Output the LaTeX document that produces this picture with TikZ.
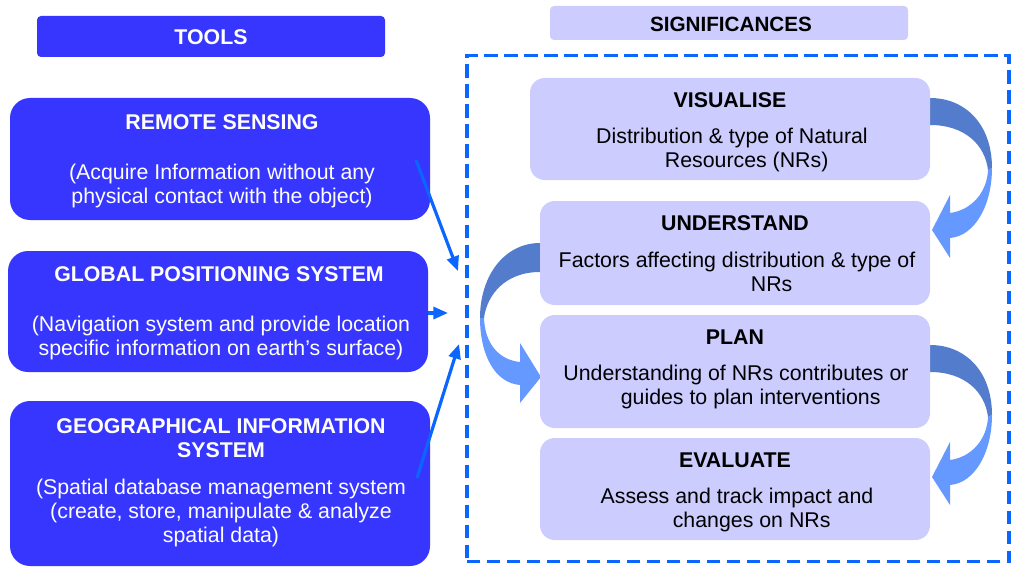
\documentclass[tikz,border=0pt]{standalone}
\usepackage{fontspec}
\setmainfont{Liberation Sans}
\usetikzlibrary{arrows.meta}
\definecolor{toolblue}{HTML}{3636FF}
\definecolor{lav}{HTML}{CCCCFF}
\definecolor{linkblue}{HTML}{0A66FF}
\definecolor{banddark}{HTML}{547CCC}
\definecolor{bandlight}{HTML}{6699FF}
\tikzset{
  toolbox/.style={fill=toolblue, draw=none, rounded corners=15pt, inner sep=0pt},
  sigbox/.style={fill=lav, draw=none, rounded corners=11pt, inner sep=0pt},
  headbox/.style={draw=none, rounded corners=3pt, inner sep=0pt},
  ttl/.style={font=\fontsize{16}{18}\selectfont\bfseries, align=center, inner sep=0pt},
  bdy/.style={font=\fontsize{16}{18}\selectfont, align=center, inner sep=0pt},
  link/.style={draw=linkblue, line width=2.4pt, -{Triangle[length=11pt,width=9pt]}},
}
\begin{document}
\begin{tikzpicture}[x=0.75pt,y=-0.75pt]
\useasboundingbox (0,0) rectangle (1011,567);
% headers
\node[headbox, fill=toolblue, minimum width=261pt, minimum height=30.75pt] (tools) at (211,36.5) {};
\node[ttl, text=white] (toolst) at (211,37) {TOOLS};
\node[headbox, fill=lav, minimum width=268.5pt, minimum height=25.5pt] (sig) at (729,23) {};
\node[ttl, font=\fontsize{15.5}{18}\selectfont\bfseries] (sigt) at (731,24) {SIGNIFICANCES};
% dashed frame
\node[draw=linkblue, line width=2.3pt, dash pattern=on 10pt off 5pt, minimum width=406.5pt, minimum height=380pt, inner sep=0pt] (frame) at (738,308.5) {};
% curved ribbon arrows
\fill[banddark] (930,98) .. controls (966,98) and (992,125) .. (992,168) -- (988,170) .. controls (985,145) and (965,125) .. (930,125) -- cycle;
\fill[bandlight] (992,168) .. controls (992,205) and (975,236) .. (950,238) -- (950,258) -- (932,230) -- (950,195) -- (950,213) .. controls (972,210) and (987,192) .. (988,170) -- cycle;
\begin{scope}[yshift=-247*0.75pt]
\fill[banddark] (930,98) .. controls (966,98) and (992,125) .. (992,168) -- (988,170) .. controls (985,145) and (965,125) .. (930,125) -- cycle;
\fill[bandlight] (992,168) .. controls (992,205) and (975,236) .. (950,238) -- (950,258) -- (932,230) -- (950,195) -- (950,213) .. controls (972,210) and (987,192) .. (988,170) -- cycle;
\end{scope}
\fill[banddark] (540,243) .. controls (505,243) and (480,275) .. (480,318) -- (484,318) .. controls (487,295) and (505,272) .. (540,272) -- cycle;
\fill[bandlight] (480,318) .. controls (480,355) and (495,383) .. (520,385) -- (520,403) -- (541,377) -- (520,343) -- (520,362) .. controls (500,360) and (485,345) .. (484,318) -- cycle;
% tool boxes
\node[toolbox, minimum width=315pt, minimum height=91.5pt] (rs) at (220,159) {};
\node[ttl, text=white] (rst) at (222,122) {REMOTE SENSING};
\node[bdy, text=white] (rsb) at (222,186) {(Acquire Information without any\\physical contact with the object)};
\node[toolbox, minimum width=315pt, minimum height=90.75pt] (gps) at (218,311.5) {};
\node[ttl, text=white] (gpst) at (219,274) {GLOBAL POSITIONING SYSTEM};
\node[bdy, text=white] (gpsb) at (221,338) {(Navigation system and provide location\\specific information on earth’s surface)};
\node[toolbox, minimum width=315pt, minimum height=123.75pt] (gis) at (220,483.5) {};
\node[ttl, text=white] (gist) at (221,438.5) {GEOGRAPHICAL INFORMATION\\SYSTEM};
\node[bdy, text=white] (gisb) at (221,513) {(Spatial database management system\\(create, store, manipulate \& analyze\\spatial data)};
% significance boxes
\node[sigbox, minimum width=300pt, minimum height=76.5pt] (vis) at (730,129) {};
\node[ttl] (vist) at (730,100) {VISUALISE};
\node[bdy] (visb) at (732,150) {Distribution \& type of Natural\\\hspace*{22pt}Resources (NRs)};
\node[sigbox, minimum width=292.5pt, minimum height=78pt] (und) at (735,253) {};
\node[ttl] (undt) at (735,223) {UNDERSTAND};
\node[bdy] (undb) at (737,272) {Factors affecting distribution \& type of\\\hspace*{52pt}NRs};
\node[sigbox, minimum width=292.5pt, minimum height=84.75pt] (plan) at (735,371.5) {};
\node[ttl] (plant) at (735,337) {PLAN};
\node[bdy] (planb) at (736,387) {Understanding of NRs contributes or\\\hspace*{22pt}guides to plan interventions};
\node[sigbox, minimum width=292.5pt, minimum height=76.5pt] (eval) at (735,489) {};
\node[ttl] (evalt) at (735,460) {EVALUATE};
\node[bdy] (evalb) at (737,510) {Assess and track impact and\\\hspace*{22pt}changes on NRs};
% tool links
\coordinate (rsa) at (416,160);
\coordinate (rse) at (458,271);
\coordinate (gpse) at (448,313);
\coordinate (gisa) at (417,478);
\coordinate (gise) at (459,344);
\draw[link] (rsa) -- (rse);
\draw[link] (gps.east |- gpse) -- (gpse);
\draw[link] (gisa) -- (gise);
\end{tikzpicture}
\end{document}
